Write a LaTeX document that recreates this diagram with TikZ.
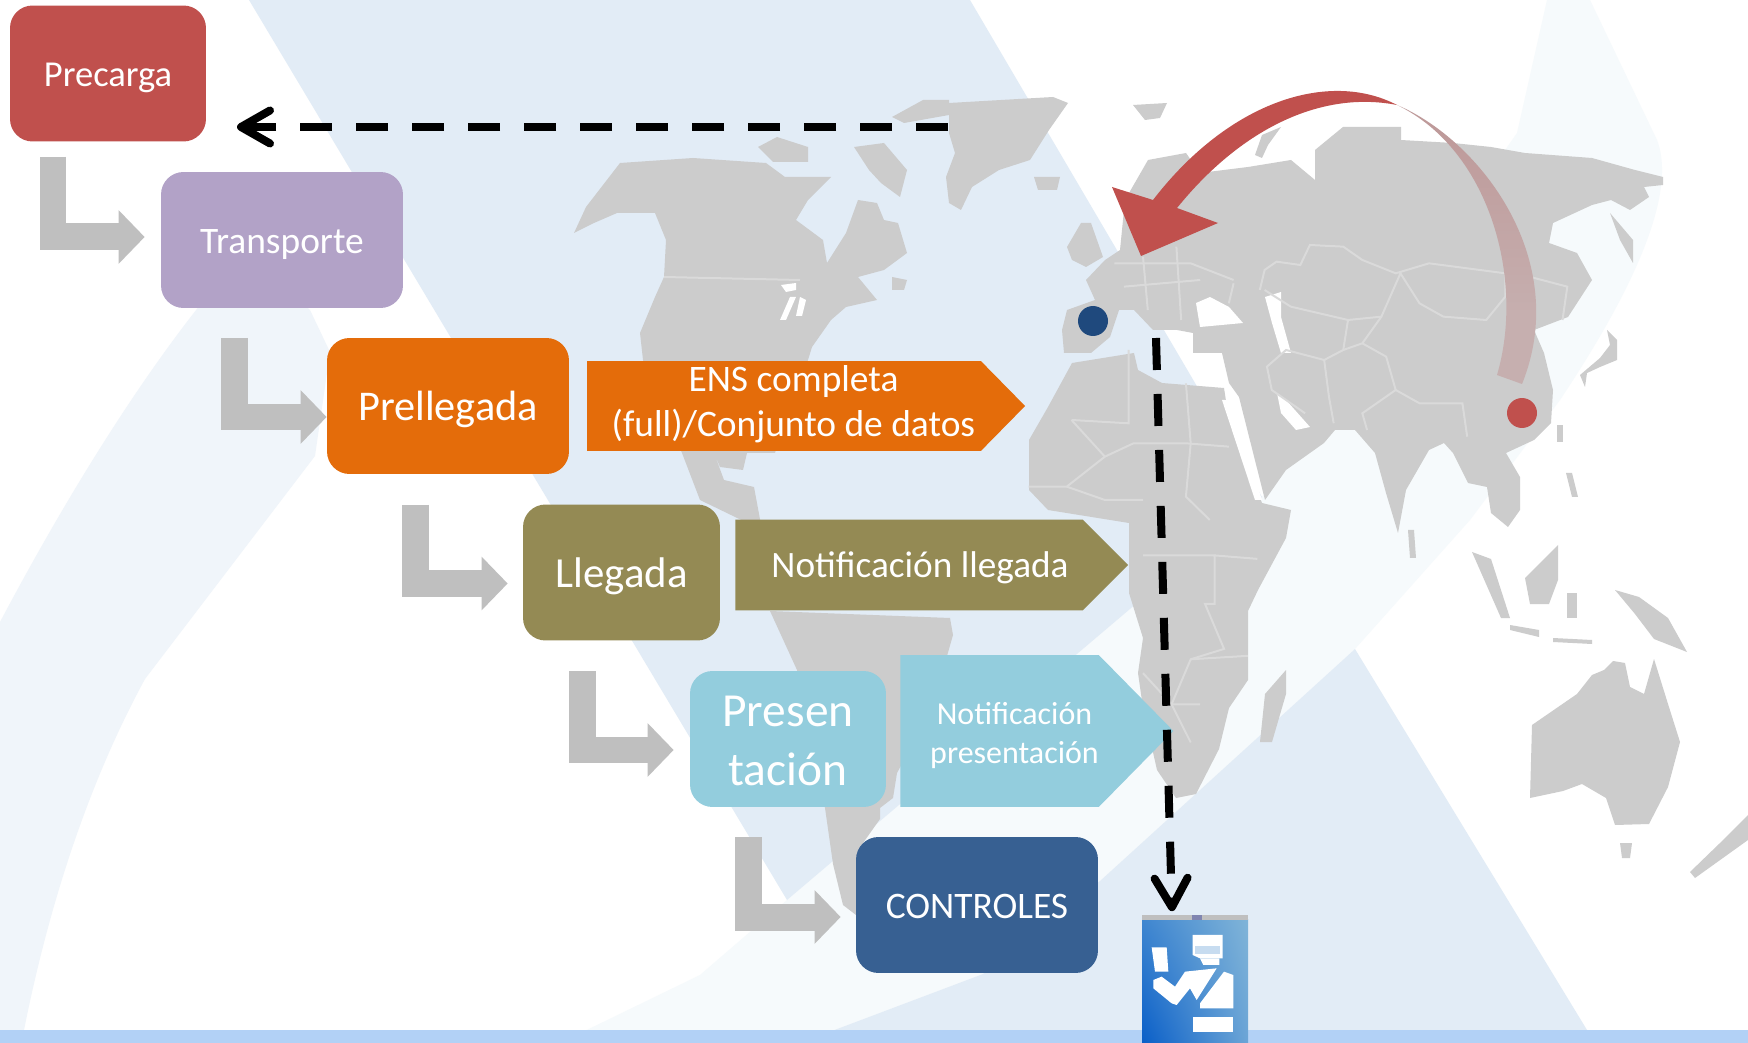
\documentclass[tikz,border=0pt]{standalone}
\usepackage{fontspec}
\setmainfont{Carlito}
\usetikzlibrary{arrows.meta,calc,shadings,shapes.symbols}

\definecolor{rojo}{HTML}{C0504D}
\definecolor{lila}{HTML}{B2A2C7}
\definecolor{naranja}{HTML}{E46C0A}
\definecolor{oliva}{HTML}{948A54}
\definecolor{celeste}{HTML}{93CDDD}
\definecolor{azul}{HTML}{376092}
\definecolor{marino}{HTML}{1F497D}
\definecolor{gris}{HTML}{BFBFBF}
\definecolor{mapa}{HTML}{CCCCCC}
\definecolor{frontera}{HTML}{DADADA}
\definecolor{fondo}{HTML}{E2ECF6}
\definecolor{palido}{HTML}{F6FAFC}
\definecolor{palido2}{HTML}{F0F5FA}
\definecolor{banda}{HTML}{B2D1F6}
\definecolor{colaA}{HTML}{C6AFAF}
\definecolor{colaB}{HTML}{BE9A9A}
\definecolor{colaC}{HTML}{8F3A38}
\definecolor{iconoA}{HTML}{0A5FC8}
\definecolor{iconoB}{HTML}{3F86D0}
\definecolor{iconoC}{HTML}{80B4D8}
\definecolor{iconoD}{HTML}{6CA5D6}
\definecolor{barra}{HTML}{8085B0}
\definecolor{gorra}{HTML}{C7DCF0}

\pgfdeclareverticalshading{tailfade}{100bp}{color(0bp)=(colaA);
  color(25bp)=(colaA); color(58bp)=(colaB); color(68bp)=(colaB); color(75bp)=(colaC)}

\tikzset{
  boxnode/.style={rectangle,rounded corners=.45cm,inner sep=0pt,text=white,
    align=center,minimum height=2.72cm},
  oneline/.style={text height=#1,text depth=0pt},
  notenode/.style={shape=signal,signal to=east,inner sep=0pt,text=white,align=center},
  bentarrow/.style={draw=gris,line width=.54cm,-{Triangle[length=.52cm,width=1.04cm]}},
  dasharrow/.style={black,line width=.16cm,dash pattern=on .64cm off .48cm,
    -{Straight Barb[length=.58cm,width=.66cm,line width=.16cm,round]}},
  land/.style={fill=mapa},
  border/.style={draw=frontera,line width=.04cm},
  dotnode/.style={circle,inner sep=0pt,minimum size=.6cm}
}

\begin{document}
\begin{tikzpicture}[x=.02cm,y=-.02cm]
  \useasboundingbox (0,0) rectangle (1748,1043);
  \fill[white] (0,0) rectangle (1748,1043);

  % fondo
  \fill[palido2] (0,622) .. controls (70,490) and (140,380) .. (204,300)
    -- (265,270) -- (310,310) -- (330,352) -- (315,456) -- (145,679)
    .. controls (90,780) and (50,900) .. (24,1030) -- (0,1030) -- cycle;
  \fill[palido] (1262,497) -- (787,900) -- (700,975) -- (560,1043) -- (800,1043)
    -- (983,974) -- (1100,881) -- (1355,649) -- (1470,520) -- (1560,400)
    .. controls (1620,310) and (1680,200) .. (1657,140) -- (1590,0) -- (1547,0)
    -- (1517,133) -- cycle;
  \fill[fondo] (249,0) -- (970,0) -- (1262,497) -- (787,900) -- cycle;
  \fill[fondo] (1355,649) -- (1100,881) -- (983,974) -- (800,1043) -- (1620,1043)
    -- (1587,1030) -- cycle;
  \fill[banda] (0,1030) rectangle (1748,1043);

  % mapa
  \fill[land] (574,233) -- (586,207) -- (620,163) -- (693,158) -- (766,163) -- (785,177)
    -- (831,177) -- (808,200) -- (796,220) -- (823,240) -- (827,263) -- (846,233)
    -- (858,200) -- (877,203) -- (884,220) -- (898,223) -- (907,253) -- (884,270)
    -- (858,277) -- (877,300) -- (846,307) -- (831,320) -- (812,347) -- (808,360)
    -- (790,400) -- (775,453) -- (747,453) -- (743,470) -- (720,467) -- (714,453)
    -- (724,480) -- (754,487) -- (762,530) -- (700,500) -- (682,453) -- (643,360)
    -- (640,333) -- (655,297) -- (664,277) -- (666,240) -- (655,213) -- (617,213)
    -- (594,223) -- cycle;
  \fill[white] (781,285) -- (796,283) -- (796,290) -- (786,292) -- cycle;
  \fill[white] (790,297) -- (796,297) -- (786,320) -- (780,320) -- cycle;
  \fill[white] (800,297) -- (806,300) -- (802,316) -- (796,316) -- cycle;
  \fill[land] (758,147) -- (777,137) -- (808,147) -- (808,162) -- (773,162) -- cycle;
  \fill[land] (854,147) -- (884,143) -- (907,170) -- (900,197) -- (881,183) -- (869,170) -- cycle;
  \fill[land] (892,277) -- (907,280) -- (904,290) -- (892,290) -- cycle;
  \fill[land] (949,103) -- (1053,97) -- (1068,103) -- (1049,130) -- (1030,160) -- (999,170)
    -- (972,187) -- (961,210) -- (949,203) -- (946,177) -- (955,153) -- (949,133) -- cycle;
  \fill[land] (892,117) -- (923,100) -- (949,100) -- (949,115) -- (904,123) -- cycle;
  \fill[land] (1034,177) -- (1060,177) -- (1057,190) -- (1038,190) -- cycle;
  \fill[land] (1133,105) -- (1167,103) -- (1160,118) -- (1145,120) -- cycle;
  \fill[land] (1255,155) -- (1262,135) -- (1281,127) -- (1268,145) -- (1262,158) -- cycle;
  \fill[land] (770,611) -- (950,618) -- (953,635) -- (947,656) -- (935,690) -- (915,740)
    -- (897,773) -- (893,798) -- (880,808) -- (880,819) -- (863,843) -- (856,915)
    -- (843,905) -- (833,864) -- (825,808) -- (797,670) -- cycle;
  \fill[land] (1148,160) -- (1186,153) -- (1200,173) -- (1248,167) -- (1291,160) -- (1315,180)
    -- (1315,150) -- (1343,127) -- (1401,127) -- (1401,140) -- (1453,143) -- (1491,147)
    -- (1525,153) -- (1592,158) -- (1635,170) -- (1663,177) -- (1663,185) -- (1644,187)
    -- (1649,197) -- (1630,210) -- (1611,200) -- (1592,205) -- (1553,223) -- (1549,243)
    -- (1577,253) -- (1592,280) -- (1568,317) -- (1534,330) -- (1544,353) -- (1553,390)
    -- (1551,423) -- (1534,440) -- (1506,453) -- (1520,477) -- (1520,510) -- (1508,527)
    -- (1491,513) -- (1487,487) -- (1468,483) -- (1453,453) -- (1444,443) -- (1429,450)
    -- (1406,490) -- (1398,533) -- (1386,493) -- (1375,453) -- (1355,430) -- (1335,430)
    -- (1324,443) -- (1286,470) -- (1265,500) -- (1239,397) -- (1229,383) -- (1222,353)
    -- (1193,353) -- (1193,333) -- (1177,330) -- (1153,330) -- (1134,310) -- (1119,310)
    -- (1110,337) -- (1091,353) -- (1064,353) -- (1062,330) -- (1067,310) -- (1095,300)
    -- (1086,280) -- (1105,260) -- (1120,250) -- (1125,200) -- cycle;
  \fill[land] (1081,223) -- (1091,223) -- (1103,257) -- (1086,267) -- (1072,260) -- (1067,247) -- cycle;
  \fill[white] (1196,303) -- (1210,297) -- (1229,307) -- (1243,323) -- (1200,327) -- cycle;
  \fill[white] (1265,297) -- (1281,292) -- (1281,317) -- (1291,353) -- (1281,353) -- (1272,323) -- cycle;
  \fill[white] (1277,393) -- (1286,400) -- (1310,427) -- (1296,430) -- (1281,413) -- cycle;
  \fill[land] (1072,363) -- (1134,353) -- (1138,370) -- (1162,383) -- (1224,388) -- (1229,420)
    -- (1262,503) -- (1291,510) -- (1286,538) -- (1258,590) -- (1248,611) -- (1248,680)
    -- (1229,708) -- (1219,749) -- (1196,794) -- (1176,798) -- (1157,770) -- (1143,708)
    -- (1138,673) -- (1143,638) -- (1129,593) -- (1129,523) -- (1048,510) -- (1029,490)
    -- (1029,440) -- (1048,407) -- cycle;
  \fill[white] (1222,400) -- (1229,400) -- (1262,500) -- (1255,500) -- cycle;
  \fill[land] (1286,670) -- (1286,694) -- (1272,742) -- (1260,742) -- (1265,694) -- cycle;
  \fill[land] (1530,798) -- (1532,725) -- (1577,694) -- (1592,675) -- (1604,670) -- (1613,661)
    -- (1625,663) -- (1630,687) -- (1644,694) -- (1654,659) -- (1668,704) -- (1680,742)
    -- (1668,787) -- (1649,824) -- (1615,825) -- (1606,798) -- (1582,784) -- (1563,791) -- cycle;
  \fill[land] (1620,843) -- (1632,843) -- (1630,858) -- (1622,858) -- cycle;
  \fill[land] (1690,872) -- (1720,843) -- (1748,815) -- (1748,840) -- (1695,878) -- cycle;
  \fill[land] (1472,552) -- (1491,559) -- (1510,618) -- (1501,618) -- cycle;
  \fill[land] (1558,545) -- (1558,580) -- (1549,604) -- (1530,604) -- (1525,578) -- cycle;
  \fill[land] (1510,625) -- (1539,630) -- (1539,637) -- (1510,630) -- cycle;
  \fill[land] (1567,593) -- (1577,593) -- (1577,618) -- (1567,618) -- cycle;
  \fill[land] (1615,590) -- (1639,597) -- (1668,618) -- (1687,652) -- (1654,639) -- (1635,614) -- cycle;
  \fill[land] (1553,638) -- (1592,640) -- (1592,644) -- (1553,642) -- cycle;
  \fill[land] (1610,213) -- (1633,240) -- (1633,263) -- (1620,240) -- cycle;
  \fill[land] (1607,330) -- (1617,340) -- (1617,360) -- (1600,367) -- (1587,373) -- (1585,387)
    -- (1580,375) -- (1600,358) -- (1610,345) -- cycle;
  \fill[land] (1557,425) -- (1563,425) -- (1563,442) -- (1557,442) -- cycle;
  \fill[land] (1566,473) -- (1572,473) -- (1578,497) -- (1572,497) -- cycle;
  \fill[land] (1408,530) -- (1414,530) -- (1416,558) -- (1410,558) -- cycle;

  % fronteras
  \draw[border] (664,277) -- (800,280);
  \begin{scope}[shift={(1000,90)},x=.00954cm,y=-.00667cm]
    \draw[border] (545,600) -- (555,540) -- (580,515) -- (630,525) -- (650,465) -- (720,470)
      -- (760,510) -- (830,550) -- (900,520) -- (1060,550) -- (1060,620) -- (1020,690)
      -- (930,680) -- (880,640) -- (840,550) -- (800,680) -- (730,690) -- (610,650) -- (555,600);
    \draw[border] (730,690) -- (720,780) -- (680,810) -- (690,920) -- (700,1000);
    \draw[border] (680,810) -- (600,780) -- (560,830) -- (570,900) -- (640,970);
    \draw[border] (760,760) -- (810,800) -- (830,900) -- (760,970) -- (770,1020);
    \draw[border] (830,900) -- (880,940) -- (970,940) -- (980,1040);
    \draw[border] (800,680) -- (760,760) -- (720,780);
    \draw[border] (150,990) -- (220,1100) -- (280,1060) -- (390,1060) -- (480,1070);
    \draw[border] (220,1100) -- (140,1190) -- (60,1190);
    \draw[border] (140,1190) -- (220,1230) -- (300,1230);
    \draw[border] (390,880) -- (400,1060) -- (390,1220) -- (440,1290);
    \draw[border] (270,780) -- (270,1000) -- (150,990);
    \draw[border] (240,520) -- (400,520) -- (490,570);
    \draw[border] (300,500) -- (310,660);
    \draw[border] (370,470) -- (380,690);
    \draw[border] (260,590) -- (420,570);
    \draw[border] (490,580) -- (480,640);
    \draw[border] (1110,560) -- (1190,590) -- (1180,690);
  \end{scope}
  \begin{scope}[shift={(1000,500)},x=.00954cm,y=-.00693cm]
    \draw[border] (300,160) -- (450,160) -- (450,300) -- (430,300) -- (470,430) -- (400,460)
      -- (360,590) -- (420,590);
    \draw[border] (450,160) -- (540,170);
    \draw[border] (400,460) -- (520,450);
    \draw[border] (300,500) -- (360,590) -- (400,700);
  \end{scope}

  % flecha roja
  \fill[rojo] (1397,105) .. controls (1330,70) and (1230,100) .. (1153,200) -- (1112,187)
    -- (1141,256) -- (1218,223) -- (1177,208) .. controls (1240,130) and (1320,90) .. (1397,105) -- cycle;
  \shade[shading=tailfade] (1397,105) .. controls (1480,140) and (1572,260) .. (1522,384)
    -- (1497,375) .. controls (1525,280) and (1490,150) .. (1397,105) -- cycle;

  \node[dotnode,fill=marino] (origen) at (1093,321) {};
  \node[dotnode,fill=rojo] (destino) at (1522,413) {};

  % agente
  \node[shade,shading=bilinear interpolation,lower left=iconoA,upper left=iconoB,
    upper right=iconoC,lower right=iconoD,
    inner sep=0pt,minimum width=2.12cm,minimum height=2.46cm] (agente) at (1195,981) {};
  \fill[gris] (1142,915) rectangle (1248,920);
  \fill[barra] (1192,915) rectangle (1202,920);
  \begin{scope}[shift={(1100,860)},x=.00667cm,y=-.00667cm]
    \fill[white] (155,262) -- (200,262) -- (205,335) -- (165,335) -- cycle;
    \fill[white] (278,225) -- (368,225) -- (368,295) -- (300,295) -- (278,285) -- cycle;
    \fill[gorra] (285,258) rectangle (360,282);
    \fill[white] (300,295) -- (358,295) -- (358,315) -- (310,315) -- cycle;
    \fill[white] (255,335) -- (350,325) -- (290,420) -- (270,385) -- (230,435) -- (215,430)
      -- (160,385) -- (160,360) -- (185,350) -- (225,380) -- cycle;
    \fill[white] (372,335) -- (400,345) -- (400,445) -- (300,445) -- (300,430) -- cycle;
    \fill[white] (278,470) rectangle (400,515);
  \end{scope}

  % cajas
  \node[boxnode,oneline=14.6pt,fill=rojo,minimum width=3.92cm,font=\fontsize{20.8}{24}\selectfont] (precarga) at (108,73.5) {Precarga};
  \node[boxnode,oneline=15pt,fill=lila,minimum width=4.84cm,font=\fontsize{21.3}{24}\selectfont] (transporte) at (282,240) {Transporte};
  \node[boxnode,oneline=16.9pt,fill=naranja,minimum width=4.84cm,font=\fontsize{24.1}{28}\selectfont] (prellegada) at (448,406) {Prellegada};
  \node[boxnode,oneline=17pt,fill=oliva,minimum width=3.94cm,font=\fontsize{24.4}{28}\selectfont] (llegada) at (621.5,572.5) {Llegada};
  \node[boxnode,fill=celeste,minimum width=3.92cm,font=\fontsize{27}{33.5}\selectfont] (presentacion) at (788,739) {\rule{0pt}{20pt}Presen\\tación};
  \node[boxnode,oneline=15pt,fill=azul,minimum width=4.84cm,font=\fontsize{21.3}{24}\selectfont] (controles) at (977,905) {CONTROLES};

  % avisos
  \node[notenode,fill=naranja,minimum width=8.76cm,minimum height=1.8cm,signal pointer angle=91,
    font=\fontsize{21.3}{25.5}\selectfont] (ens) at (784,406) {\hspace*{.38cm}ENS completa\\\hspace*{.38cm}(full)/Conjunto de datos\rule[-6pt]{0pt}{0pt}};
  \node[notenode,oneline=14.6pt,fill=oliva,minimum width=7.86cm,minimum height=1.82cm,signal pointer angle=90,
    font=\fontsize{21.2}{24}\selectfont] (avisollegada) at (909,565) {\hspace*{.44cm}Notificación llegada};
  \node[notenode,fill=celeste,minimum width=5.3cm,minimum height=3.04cm,signal pointer angle=91,
    font=\fontsize{18.2}{22.2}\selectfont] (avisopresentacion) at (999.5,731) {\rule{0pt}{17.5pt}\hspace*{.6cm}Notificación\\\hspace*{.6cm}presentación};

  % flechas entre cajas
  \coordinate (salida1) at (53,157);
  \coordinate (salida2) at (234.5,338);
  \coordinate (salida3) at (415.5,505);
  \coordinate (salida4) at (582,671);
  \coordinate (salida5) at (748.5,837);
  \draw[bentarrow] (salida1) |- ($(transporte.west)+(-16,-3)$);
  \draw[bentarrow] (salida2) |- ($(prellegada.west)+(0,11)$);
  \draw[bentarrow] (salida3) |- ($(llegada.west)+(-15,11)$);
  \draw[bentarrow] (salida4) |- ($(presentacion.west)+(-16,11)$);
  \draw[bentarrow] (salida5) |- ($(controles.west)+(-15,12)$);

  % flechas punteadas
  \coordinate (tramo1) at (948,127);
  \coordinate (fin1) at (237,127);
  \coordinate (tramo2) at (1156,338);
  \draw[dasharrow] (tramo1) -- (fin1);
  \draw[dasharrow] (tramo2) -- ($(agente.north)+(-23,-8)$);
\end{tikzpicture}
\end{document}
